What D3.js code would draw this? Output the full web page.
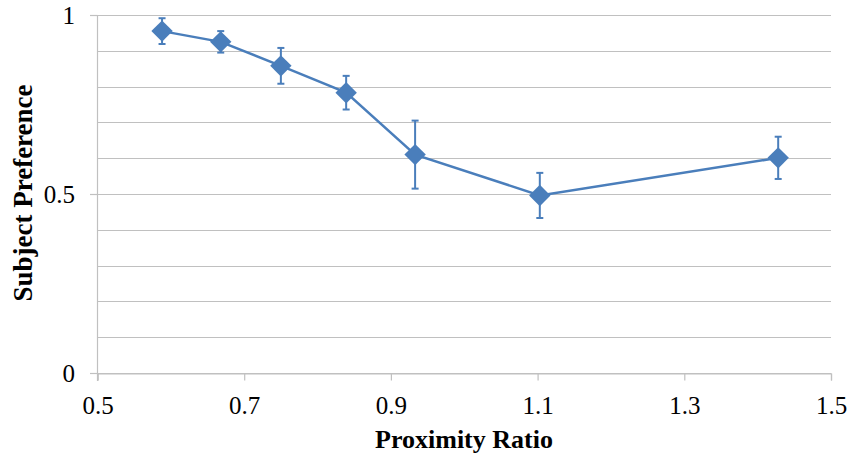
<!DOCTYPE html>
<html>
<head>
<meta charset="utf-8">
<script src="https://cdn.jsdelivr.net/npm/d3@7"></script>
<style>
  html, body { margin: 0; padding: 0; background: #fff; }
  svg { display: block; }
</style>
</head>
<body>
<svg id="chart" width="849" height="457"></svg>
<script>
// Proximity ratio vs. mean subject preference, with error bars
const proximity = [0.588, 0.668, 0.750, 0.839, 0.933, 1.103, 1.428];
const preference = [0.955, 0.925, 0.858, 0.783, 0.610, 0.496, 0.601];
const errorHalf = [0.036, 0.030, 0.050, 0.047, 0.095, 0.063, 0.059];
const xTicks = [0.5, 0.7, 0.9, 1.1, 1.3, 1.5];
const yTicks = [0, 0.5, 1];
const yGrid = d3.range(0, 11).map(i => i / 10);

const svg = d3.select("#chart");
const margin = { left: 97.5, right: 18, top: 15, bottom: 84 };
const W = 849, H = 457;
const x = d3.scaleLinear().domain([0.5, 1.5]).range([margin.left, W - margin.right]);
const y = d3.scaleLinear().domain([0, 1]).range([H - margin.bottom, margin.top]);

const blue = "#4a7ebb";
const gridColor = "#c0c0c0";
const serif = "'Liberation Serif', 'Times New Roman', serif";

// horizontal gridlines
svg.append("g").selectAll("line").data(yGrid).join("line")
  .attr("x1", margin.left).attr("x2", W - margin.right)
  .attr("y1", d => Math.round(y(d)) + 0.5).attr("y2", d => Math.round(y(d)) + 0.5)
  .attr("stroke", gridColor).attr("stroke-width", 1.2);

// x axis
const xAxis = svg.append("g")
  .attr("transform", `translate(0,${Math.round(y(0)) + 0.5})`)
  .call(d3.axisBottom(x).tickValues(xTicks).tickSize(7).tickPadding(16)
    .tickFormat(d3.format(".1f")));
xAxis.select(".domain").attr("stroke", gridColor).attr("stroke-width", 1.2);
xAxis.selectAll(".tick line").attr("stroke", gridColor).attr("stroke-width", 1.2);
xAxis.selectAll("text").attr("font-family", serif).attr("font-size", 25)
  .attr("fill", "#000").attr("dy", "0.71em");

// y axis
const yAxis = svg.append("g")
  .attr("transform", `translate(${margin.left},0)`)
  .call(d3.axisLeft(y).tickValues(yTicks).tickSize(7.5).tickPadding(15)
    .tickFormat(d => d === 0 || d === 1 ? d3.format("d")(d) : d3.format(".1f")(d)));
yAxis.select(".domain").attr("stroke", gridColor).attr("stroke-width", 1.2)
  .attr("d", `M0,${y(1)}V${y(0) + 8}`);
yAxis.selectAll(".tick line").attr("stroke", gridColor).attr("stroke-width", 1.2);
yAxis.selectAll("text").attr("font-family", serif).attr("font-size", 25)
  .attr("fill", "#000");

// error bars
const eb = svg.append("g").attr("stroke", blue).attr("stroke-width", 2);
proximity.forEach((px, i) => {
  const cx = x(px);
  const top = y(preference[i] + errorHalf[i]);
  const bot = y(preference[i] - errorHalf[i]);
  eb.append("line").attr("x1", cx).attr("x2", cx).attr("y1", top).attr("y2", bot);
  eb.append("line").attr("x1", cx - 3.5).attr("x2", cx + 3.5).attr("y1", top).attr("y2", top);
  eb.append("line").attr("x1", cx - 3.5).attr("x2", cx + 3.5).attr("y1", bot).attr("y2", bot);
});

// series line
const pts = proximity.map((px, i) => [px, preference[i]]);
svg.append("path").datum(pts)
  .attr("fill", "none").attr("stroke", blue).attr("stroke-width", 2.5)
  .attr("d", d3.line().x(d => x(d[0])).y(d => y(d[1])));

// diamond markers
svg.append("g").selectAll("path").data(pts).join("path")
  .attr("transform", d => `translate(${x(d[0])},${y(d[1])})`)
  .attr("d", "M0,-10.7L10.7,0L0,10.7L-10.7,0Z")
  .attr("fill", blue);

// axis titles
svg.append("text")
  .attr("x", 464).attr("y", 448)
  .attr("text-anchor", "middle")
  .attr("font-family", serif).attr("font-size", 26).attr("font-weight", "bold")
  .text("Proximity Ratio");

svg.append("text")
  .attr("transform", `translate(32,${y(0.5) - 1}) rotate(-90)`)
  .attr("text-anchor", "middle")
  .attr("font-family", serif).attr("font-size", 27).attr("font-weight", "bold")
  .text("Subject Preference");
</script>
</body>
</html>
